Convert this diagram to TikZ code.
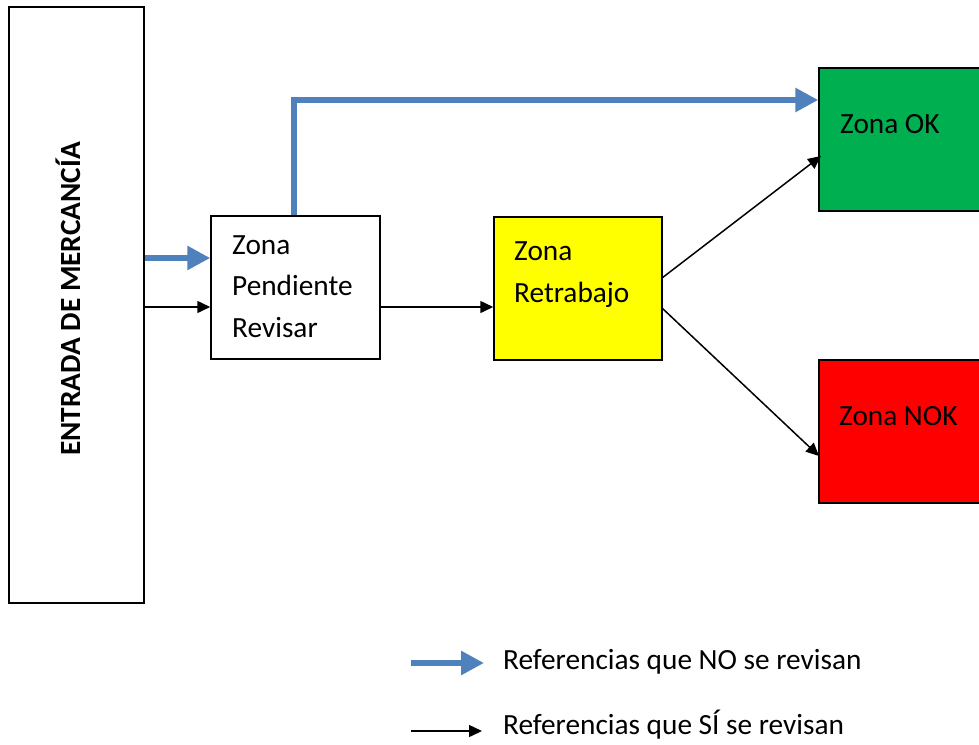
\documentclass[tikz,border=0pt]{standalone}
\usepackage{fontspec}
\setmainfont{Carlito}
\usetikzlibrary{arrows.meta}
\definecolor{flowblue}{HTML}{4F81BD}
\definecolor{okgreen}{HTML}{00B050}
\definecolor{nokred}{HTML}{FF0000}
\definecolor{rework}{HTML}{FFFF00}
\begin{document}
\begin{tikzpicture}[x=1pt,y=-1pt,
  zone/.style={draw=black,line width=1.5pt,inner sep=0pt},
  lbl/.style={anchor=base west,inner sep=0pt,align=left,
    font=\fontsize{29.3}{41.5}\selectfont},
  noflow/.style={draw=flowblue,line width=6pt,
    -{Triangle[length=23pt,width=23pt]}},
  yesflow/.style={draw=black,line width=1.5pt,
    -{Triangle[length=13pt,width=12pt]}}]
\useasboundingbox (0,0) rectangle (979,744);
\begin{scope}
\clip (0,0) rectangle (979,744);
% boxes
\node[zone,minimum width=135pt,minimum height=596pt] (entrada) at (76.5,305) {};
\node[zone,fill=white,minimum width=169pt,minimum height=143pt] (pend) at (295.5,287.5) {};
\node[zone,fill=rework,minimum width=168pt,minimum height=143pt] (retr) at (578,288.5) {};
\node[zone,fill=okgreen,minimum width=170pt,minimum height=143pt] (ok) at (904,139.5) {};
\node[zone,fill=nokred,minimum width=170pt,minimum height=143pt] (nok) at (904,431.5) {};
\end{scope}
% labels (multi-line labels sit on the baseline of their last line)
\node[rotate=90,anchor=base,inner sep=0pt,font=\fontsize{29.3}{34}\selectfont\bfseries] (entrada-t) at (80,299) {ENTRADA DE MERCANCÍA};
\node[lbl] (pend-t) at (232,337) {Zona\\Pendiente\\Revisar};
\node[lbl] (retr-t) at (514,302) {Zona\\Retrabajo};
\node[lbl] (ok-t) at (840,133) {Zona OK};
\node[lbl] (nok-t) at (839,425) {Zona NOK};
% connector anchor points
\coordinate (inblue) at (144,258);
\coordinate (inblack) at (144,307);
\coordinate (up) at (294,100);
\coordinate (retrA) at (662,278);
\coordinate (retrB) at (662,308);
\coordinate (okin) at (821,156);
\coordinate (nokin) at (819,456);
% references not reviewed
\draw[noflow] (entrada.east |- inblue) -- (pend.west |- inblue);
\draw[noflow] (pend.north -| up) -- (up) -- (ok.west |- up);
% references reviewed
\draw[yesflow] (entrada.east |- inblack) -- (pend.west |- inblack);
\draw[yesflow] (pend.east |- inblack) -- (retr.west |- inblack);
\draw[yesflow] (retrA) -- (okin);
\draw[yesflow] (retrB) -- (nokin);
% legend
\coordinate (legA0) at (411,663);
\coordinate (legA1) at (484,663);
\coordinate (legB0) at (411,731);
\coordinate (legB1) at (482,731);
\draw[noflow] (legA0) -- (legA1);
\draw[yesflow] (legB0) -- (legB1);
\node[lbl] (legA-t) at (503,669) {Referencias que NO se revisan};
\node[lbl] (legB-t) at (503,734) {Referencias que SÍ se revisan};
\end{tikzpicture}
\end{document}
